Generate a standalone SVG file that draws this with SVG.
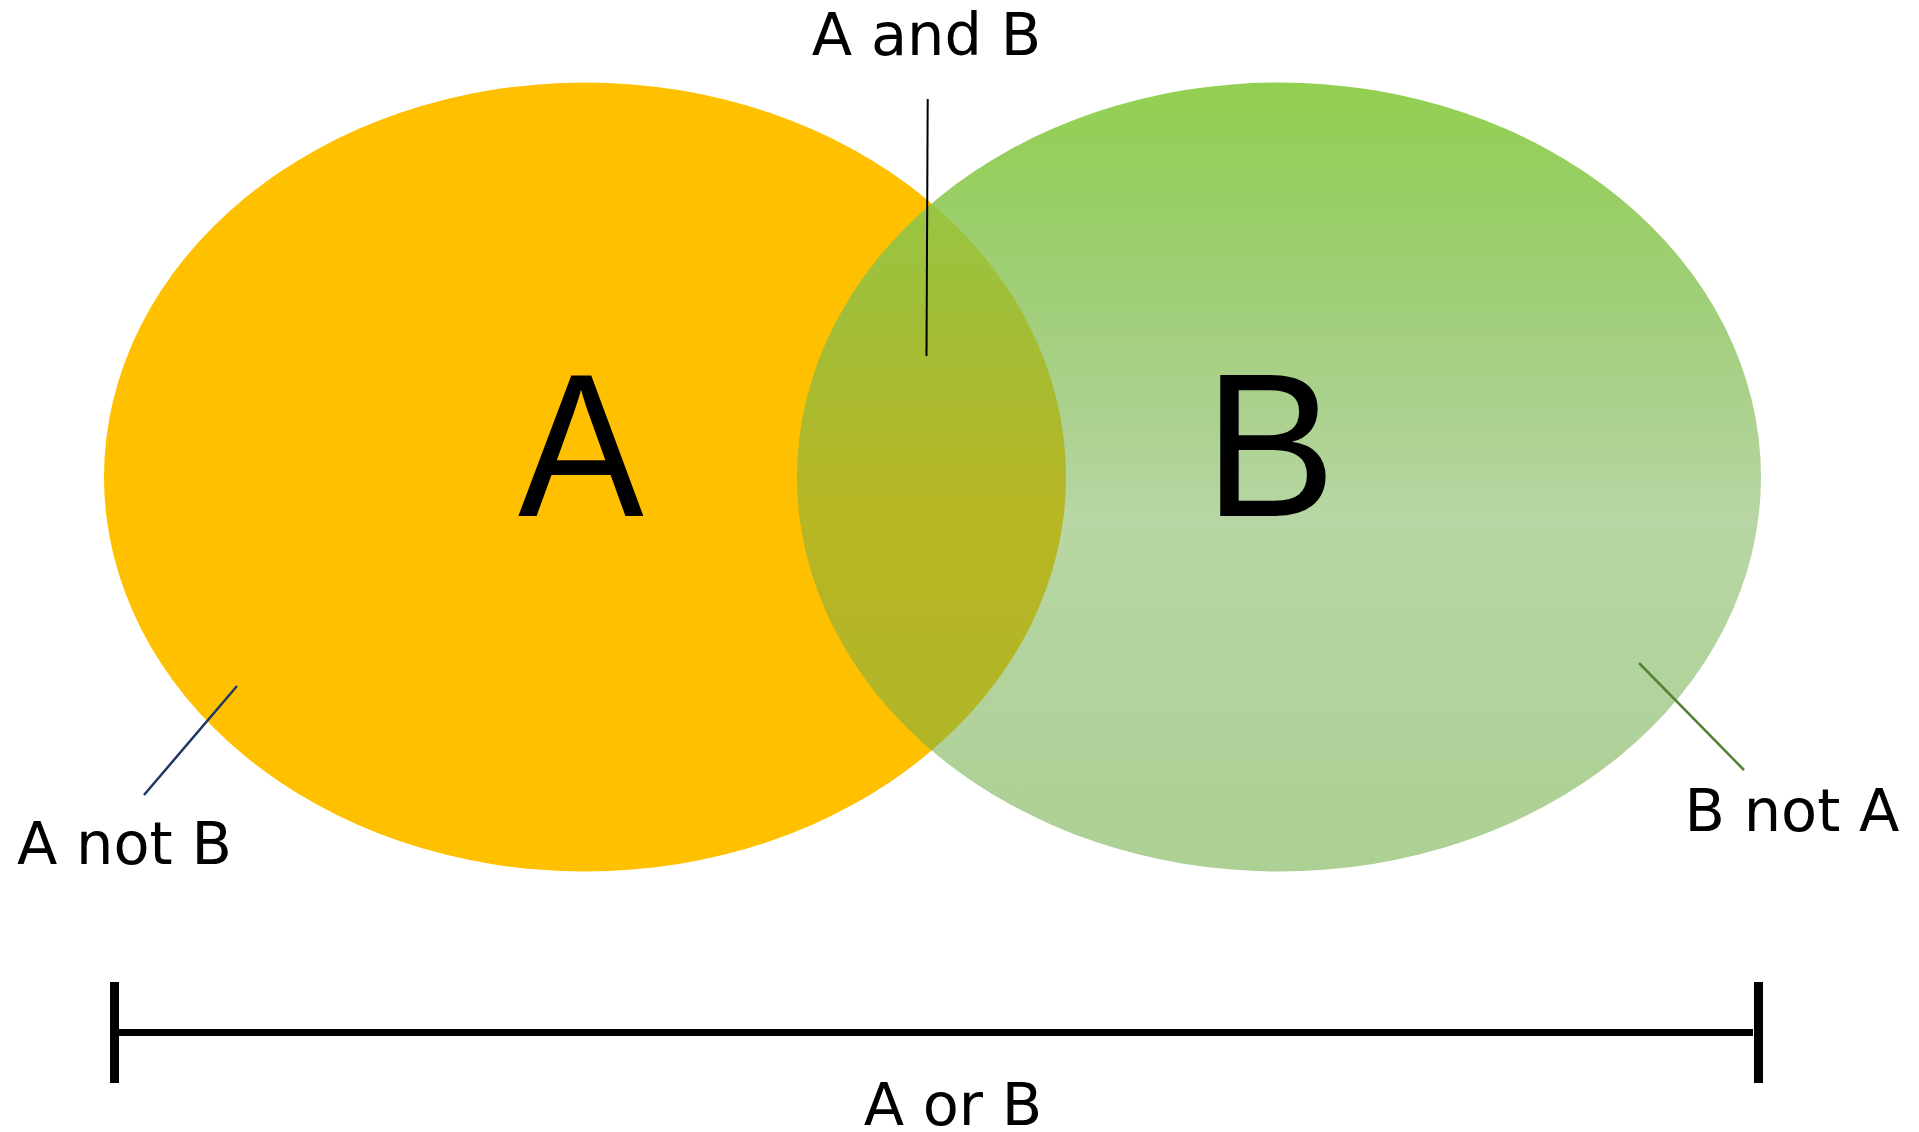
<svg xmlns="http://www.w3.org/2000/svg" width="1919" height="1132" viewBox="0 0 1919 1132">
<style>
.lbl{font-family:"DejaVu Sans",Verdana,sans-serif;font-size:59px;fill:#000}
.big{font-family:"Liberation Sans",Arial,sans-serif;font-size:205px;fill:#000}
.bar{fill:#000}
</style>
<defs>
<linearGradient id="gB" x1="0" y1="0" x2="0" y2="1">
<stop offset="0" stop-color="#92D050" stop-opacity="1"/>
<stop offset="0.55" stop-color="#70AD47" stop-opacity="0.5"/>
<stop offset="1" stop-color="#70AD47" stop-opacity="0.58"/>
</linearGradient>
</defs>
<rect width="1919" height="1132" fill="#fff"/>
<g id="setA">
<ellipse cx="585" cy="477" rx="481" ry="394.5" fill="#FFC000"/>
</g>
<g id="setB">
<ellipse cx="1279" cy="477" rx="482" ry="394.5" fill="url(#gB)"/>
</g>
<g id="letters">
<text class="big" transform="translate(518,516) scale(0.92,1)" x="0" y="0">A</text>
<text class="big" transform="translate(1204,516) scale(0.965,1)" x="0" y="0">B</text>
</g>
<g id="connectors">
<line x1="927.7" y1="99" x2="926.5" y2="356" stroke="#000" stroke-width="2"/>
<line x1="144" y1="795" x2="237" y2="686" stroke="#1F3864" stroke-width="2.5"/>
<line x1="1639" y1="663" x2="1744" y2="770" stroke="#548235" stroke-width="2.5"/>
</g>
<g id="label-and">
<text class="lbl" x="926.5" y="55" text-anchor="middle">A and B</text>
</g>
<g id="label-anotb">
<text class="lbl" x="17" y="864">A not B</text>
</g>
<g id="label-bnota">
<text class="lbl" x="1792" y="831" text-anchor="middle">B not A</text>
</g>
<g id="range">
<rect class="bar" x="110" y="982" width="9" height="101"/>
<rect class="bar" x="1754" y="982" width="9" height="101"/>
<rect class="bar" x="119" y="1029" width="1634" height="7"/>
<text class="lbl" x="953" y="1125" text-anchor="middle">A or B</text>
</g>
</svg>
